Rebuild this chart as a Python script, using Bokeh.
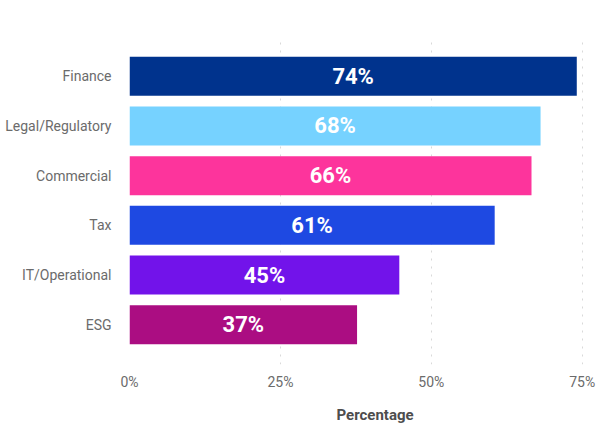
from bokeh.plotting import figure
from bokeh.models import FactorRange, Range1d, ColumnDataSource, FixedTicker, LabelSet, Title
from bokeh.core.properties import value
from bokeh.embed import file_html
from bokeh.resources import INLINE

categories = ["Finance", "Legal/Regulatory", "Commercial", "Tax", "IT/Operational", "ESG"]
values = [74.1, 68.1, 66.6, 60.5, 44.7, 37.7]
labels = ["74%", "68%", "66%", "61%", "45%", "37%"]
colors = ["#00338D", "#76D2FF", "#FD349C", "#1E49E2", "#7213EA", "#AB0D82"]
x_ticks = [0, 25, 50, 75]
x_tick_labels = {0: "0%", 25: "25%", 50: "50%", 75: "75%"}
x_title = "Percentage"

src = ColumnDataSource(dict(cat=categories, val=values, mid=[v / 2 for v in values],
                            lab=labels, col=colors))

p = figure(width=610, height=434, output_backend="svg", toolbar_location=None, title=None,
           y_range=FactorRange(factors=list(reversed(categories)), range_padding=0.3,
                               range_padding_units="absolute"),
           x_range=Range1d(0, 78.03),
           min_border_left=129, min_border_right=10, min_border_top=36, min_border_bottom=66)
p.outline_line_color = None
p.background_fill_color = "white"

p.hbar(y="cat", right="val", left=0, height=0.785, color="col", source=src, line_color=None)

p.add_layout(LabelSet(x="mid", y="cat", text="lab", source=src, text_align="center",
                      text_baseline="middle", text_color="white", text_font_size="22px",
                      text_font_style="bold", text_font=value("Roboto")))

for ax in (p.xaxis, p.yaxis):
    ax.axis_line_color = None
    ax.major_tick_line_color = None
    ax.minor_tick_line_color = None
    ax.major_tick_out = 0
    ax.major_tick_in = 0
    ax.minor_tick_out = 0
    ax.minor_tick_in = 0
    ax.major_label_text_font = "Roboto"
    ax.major_label_text_font_size = "14px"
    ax.major_label_text_color = "#6b6b6b"

p.xaxis.ticker = FixedTicker(ticks=x_ticks)
p.xaxis.major_label_overrides = x_tick_labels
p.xaxis.major_label_standoff = 9

p.add_layout(Title(text=x_title, align="left", offset=207, standoff=22,
                   text_font="Roboto", text_font_style="bold", text_font_size="15px",
                   text_color="#4d4d4d"), "below")

p.yaxis.major_label_standoff = 18

p.ygrid.grid_line_color = None
p.xgrid.grid_line_color = "#d9d9d9"
p.xgrid.grid_line_dash = "2 6"
p.xgrid.grid_line_width = 1

open("out.html", "w").write(file_html(p, INLINE))
